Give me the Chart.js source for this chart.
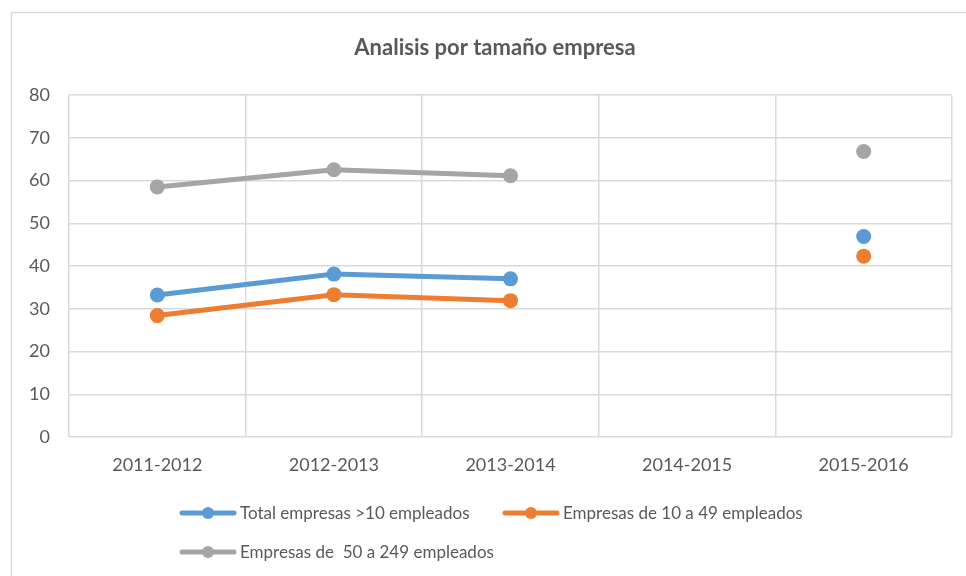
<!DOCTYPE html>
<html>
<head>
<meta charset="utf-8">
<script src="https://cdn.jsdelivr.net/npm/chart.js@4"></script>
<style>
html,body{margin:0;padding:0;background:#fff;}
#wrap{width:966px;height:576px;position:relative;}
</style>
</head>
<body>
<div id="wrap"><canvas id="c" width="966" height="576"></canvas></div>
<script>
const categories = ['2011-2012', '2012-2013', '2013-2014', '2014-2015', '2015-2016'];
const totalEmpresas = [33.2, 38.1, 37.0, null, 46.9];
const empresas10a49 = [28.4, 33.3, 31.9, null, 42.3];
const empresas50a249 = [58.5, 62.5, 61.1, null, 66.8];
const seriesLabels = ['Total empresas >10 empleados', 'Empresas de 10 a 49 empleados', 'Empresas de  50 a 249 empleados'];
const seriesColors = ['#5B9BD5', '#ED7D31', '#A5A5A5'];
const yTicks = [0, 10, 20, 30, 40, 50, 60, 70, 80];
const titleText = 'Analisis por tamaño empresa';

const FONT = 'Lato, "Open Sans", sans-serif';
const TXT = '#595959';

const frame = {
  id: 'frame',
  beforeDraw(chart) {
    const ctx = chart.ctx;
    ctx.save();
    ctx.fillStyle = '#fff';
    ctx.fillRect(0, 0, chart.width, chart.height);
    ctx.strokeStyle = '#d9d9d9';
    ctx.lineWidth = 1.5;
    ctx.strokeRect(11.5, 12.5, chart.width + 20, chart.height + 20);
    ctx.restore();
  }
};

const customLegend = {
  id: 'customLegend',
  afterDraw(chart) {
    const ctx = chart.ctx;
    const pos = [[180, 513], [503, 513], [180, 552]];
    ctx.save();
    ctx.font = '17px ' + FONT;
    ctx.textBaseline = 'middle';
    ctx.textAlign = 'left';
    chart.data.datasets.forEach((ds, i) => {
      const [x, y] = pos[i];
      ctx.strokeStyle = ds.borderColor;
      ctx.lineWidth = 5;
      ctx.lineCap = 'round';
      ctx.beginPath();
      ctx.moveTo(x + 2, y);
      ctx.lineTo(x + 54, y);
      ctx.stroke();
      ctx.fillStyle = ds.borderColor;
      ctx.beginPath();
      ctx.arc(x + 28, y, 6, 0, Math.PI * 2);
      ctx.fill();
      ctx.fillStyle = TXT;
      ctx.fillText(ds.label, x + 60, y + 1);
    });
    ctx.restore();
  }
};

const datasets = [totalEmpresas, empresas10a49, empresas50a249].map((d, i) => ({
  label: seriesLabels[i],
  data: d,
  borderColor: seriesColors[i],
  backgroundColor: seriesColors[i],
  borderWidth: 5,
  pointRadius: 7.5,
  pointHoverRadius: 7.5,
  pointBorderWidth: 0,
  spanGaps: false,
  tension: 0,
  yAxisID: 'y'
}));

new Chart(document.getElementById('c'), {
  type: 'line',
  data: { labels: categories, datasets },
  plugins: [frame, customLegend],
  options: {
    responsive: false,
    animation: false,
    layout: { padding: { left: 24, right: 0, top: 0, bottom: 0 } },
    plugins: {
      legend: { display: false },
      tooltip: { enabled: false },
      title: {
        display: true,
        text: titleText,
        color: TXT,
        font: { family: FONT, size: 22, weight: 'bold', lineHeight: 1.2 },
        padding: { top: 34.8, bottom: 33.8 }
      }
    },
    scales: {
      x: {
        offset: true,
        grid: { offset: true, color: '#d9d9d9', lineWidth: 1.5, drawTicks: false },
        border: { display: false },
        ticks: { color: TXT, font: { family: FONT, size: 18 }, padding: 17, maxRotation: 0 },
        afterFit(axis) { axis.height = 139; }
      },
      y: {
        min: 0, max: 80,
        afterBuildTicks(axis) { axis.ticks = yTicks.map(v => ({ value: v })); },
        grid: { color: '#d9d9d9', lineWidth: 1.5, drawTicks: false },
        border: { display: false },
        ticks: { color: TXT, font: { family: FONT, size: 18 }, padding: 19 },
        afterFit(axis) { axis.width = 45; }
      },
      yRight: {
        position: 'right',
        min: 0, max: 80,
        grid: { display: false, drawTicks: false },
        border: { display: false },
        ticks: { display: false },
        afterFit(axis) { axis.width = 14; }
      }
    }
  }
});
</script>
</body>
</html>
